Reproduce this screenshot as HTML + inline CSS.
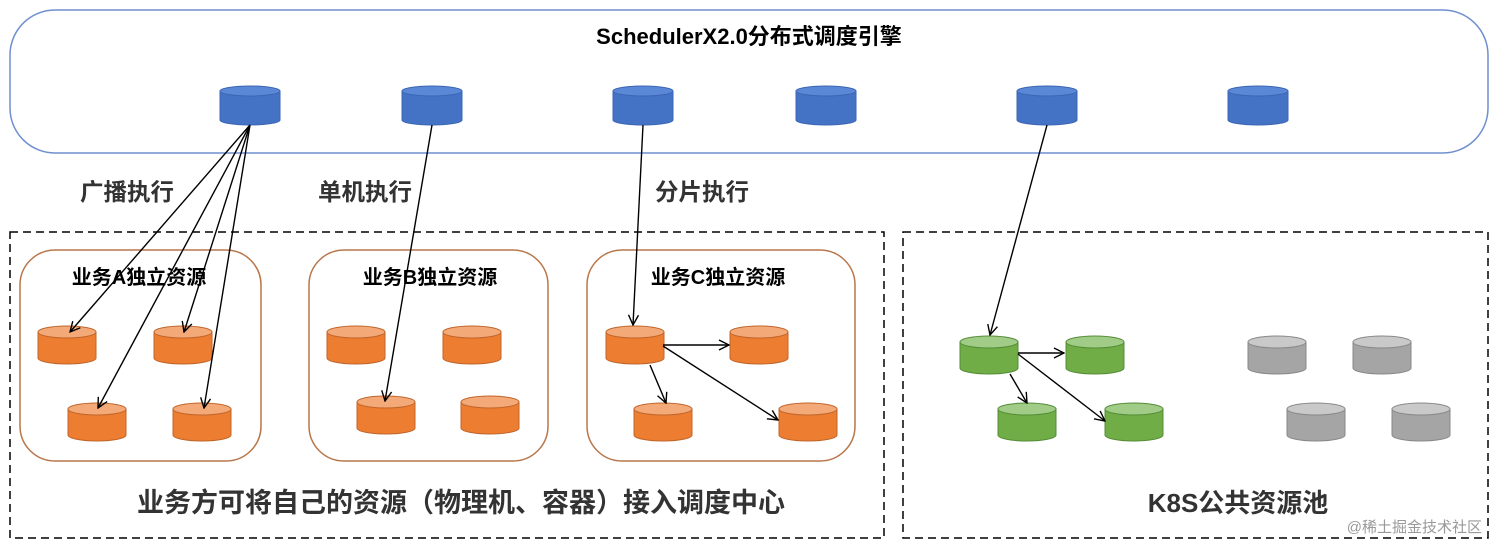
<!DOCTYPE html>
<html><head><meta charset="utf-8"><style>
html,body{margin:0;padding:0;background:#fff;}
svg{display:block;font-family:"Liberation Sans","Noto Sans CJK SC",sans-serif;font-weight:bold;}
</style></head><body>
<svg width="1500" height="553" viewBox="0 0 1500 553" xmlns="http://www.w3.org/2000/svg">
<defs>
<marker id="ar" viewBox="0 0 12 12" refX="11" refY="6" markerWidth="12" markerHeight="12" markerUnits="userSpaceOnUse" orient="auto">
<path d="M1,1 L11,6 L1,11" fill="none" stroke="#000" stroke-width="1.4"/>
</marker>
<g id="cb"><path d="M0,5 L0,34 A30,5 0 0 0 60,34 L60,5 Z" fill="#4472c4" stroke="#3a66b5" stroke-width="1"/><ellipse cx="30" cy="5" rx="30" ry="5" fill="#5b88d6" stroke="#3a66b5" stroke-width="1"/></g>
<g id="co"><path d="M0,6 L0,32 A29,6 0 0 0 58,32 L58,6 Z" fill="#ed7d31" stroke="#c0652a" stroke-width="1"/><ellipse cx="29" cy="6" rx="29" ry="6" fill="#f4a978" stroke="#c0652a" stroke-width="1"/></g>
<g id="cg"><path d="M0,6 L0,32 A29,6 0 0 0 58,32 L58,6 Z" fill="#70ad47" stroke="#548c35" stroke-width="1"/><ellipse cx="29" cy="6" rx="29" ry="6" fill="#a0cc88" stroke="#548c35" stroke-width="1"/></g>
<g id="cy"><path d="M0,6 L0,32 A29,6 0 0 0 58,32 L58,6 Z" fill="#a5a5a5" stroke="#888" stroke-width="1"/><ellipse cx="29" cy="6" rx="29" ry="6" fill="#c9c9c9" stroke="#888" stroke-width="1"/></g>
</defs>
<rect x="10" y="10" width="1478" height="143" rx="45" fill="#fff" stroke="#6f8fcf" stroke-width="1.5"/>
<text x="749" y="44" font-size="22" text-anchor="middle">SchedulerX2.0分布式调度引擎</text>
<use href="#cb" x="220" y="86"/><use href="#cb" x="402" y="86"/><use href="#cb" x="613" y="86"/>
<use href="#cb" x="796" y="86"/><use href="#cb" x="1017" y="86"/><use href="#cb" x="1228" y="86"/>
<text x="80" y="200" font-size="23.5" fill="#333">广播执行</text>
<text x="318" y="200" font-size="23.5" fill="#333">单机执行</text>
<text x="655" y="200" font-size="23.5" fill="#333">分片执行</text>
<rect x="10" y="232" width="874" height="306" fill="none" stroke="#000" stroke-width="1.5" stroke-dasharray="8,5"/>
<rect x="903" y="232" width="585" height="306" fill="none" stroke="#000" stroke-width="1.5" stroke-dasharray="8,5"/>
<rect x="20" y="250" width="241" height="211" rx="35" fill="none" stroke="#b9764a" stroke-width="1.5"/>
<rect x="309" y="250" width="239" height="211" rx="35" fill="none" stroke="#b9764a" stroke-width="1.5"/>
<rect x="587" y="250" width="268" height="211" rx="35" fill="none" stroke="#b9764a" stroke-width="1.5"/>
<text x="139" y="284" font-size="20" text-anchor="middle">业务A独立资源</text>
<text x="430" y="284" font-size="20" text-anchor="middle">业务B独立资源</text>
<text x="718" y="284" font-size="20" text-anchor="middle">业务C独立资源</text>
<use href="#co" x="38" y="326"/><use href="#co" x="154" y="326"/><use href="#co" x="68" y="403"/><use href="#co" x="173" y="403"/>
<use href="#co" x="327" y="326"/><use href="#co" x="443" y="326"/><use href="#co" x="357" y="396"/><use href="#co" x="461" y="396"/>
<use href="#co" x="606" y="326"/><use href="#co" x="730" y="326"/><use href="#co" x="634" y="403"/><use href="#co" x="779" y="403"/>
<use href="#cg" x="960" y="336"/><use href="#cg" x="1066" y="336"/><use href="#cg" x="998" y="403"/><use href="#cg" x="1105" y="403"/>
<use href="#cy" x="1248" y="336"/><use href="#cy" x="1353" y="336"/><use href="#cy" x="1287" y="403"/><use href="#cy" x="1392" y="403"/>
<g stroke="#000" stroke-width="1.4" fill="none" marker-end="url(#ar)">
<line x1="250" y1="125" x2="70" y2="332"/>
<line x1="250" y1="125" x2="184" y2="332"/>
<line x1="250" y1="125" x2="98" y2="408"/>
<line x1="250" y1="125" x2="204" y2="408"/>
<line x1="432" y1="125" x2="385" y2="401"/>
<line x1="643" y1="125" x2="633" y2="325"/>
<line x1="663" y1="345" x2="729" y2="345"/>
<line x1="650" y1="365" x2="666" y2="403"/>
<line x1="663" y1="346" x2="778" y2="420"/>
<line x1="1047" y1="125" x2="990" y2="335"/>
<line x1="1018" y1="353" x2="1064" y2="353"/>
<line x1="1010" y1="374" x2="1027" y2="403"/>
<line x1="1018" y1="354" x2="1105" y2="421"/>
</g>
<text x="461" y="512" font-size="27" text-anchor="middle" fill="#333">业务方可将自己的资源（物理机、容器）接入调度中心</text>
<text x="1238" y="512" font-size="26" text-anchor="middle" fill="#333">K8S公共资源池</text>
<text x="1482" y="532" font-size="15" font-weight="normal" text-anchor="end" fill="#999">@稀土掘金技术社区</text>
</svg>
</body></html>
